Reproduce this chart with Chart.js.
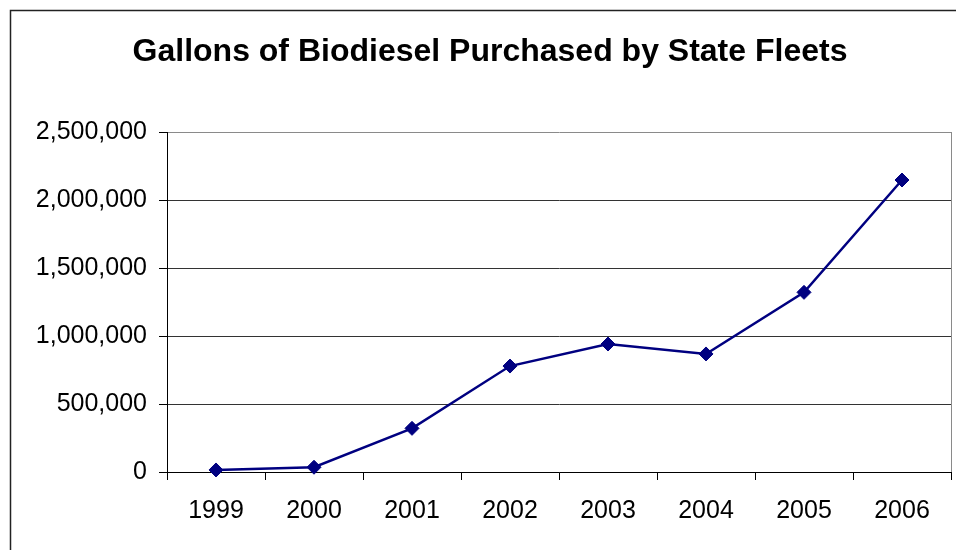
<!DOCTYPE html>
<html>
<head>
<meta charset="utf-8">
<script src="https://cdn.jsdelivr.net/npm/chart.js@4/dist/chart.umd.min.js"></script>
<style>
  html, body { margin: 0; padding: 0; background: #fff; }
  #wrap { width: 956px; height: 550px; }
</style>
</head>
<body>
<div id="wrap"><canvas id="biodieselChart" width="956" height="550"></canvas></div>
<script>
// data
const years = ['1999', '2000', '2001', '2002', '2003', '2004', '2005', '2006'];
const gallons = [15000, 35000, 321000, 779000, 941000, 868000, 1321000, 2147000];
const yTicks = [0, 500000, 1000000, 1500000, 2000000, 2500000];

// outer frame + grey right edge of the plot area
const framePlugin = {
  id: 'frame',
  beforeDraw(chart) {
    const ctx = chart.ctx;
    ctx.save();
    ctx.strokeStyle = '#222';
    ctx.lineWidth = 1.5;
    ctx.beginPath();
    ctx.moveTo(10.5, 550);
    ctx.lineTo(10.5, 10.5);
    ctx.lineTo(956, 10.5);
    ctx.stroke();
    ctx.restore();
  },
  afterDatasetsDraw(chart) {
    const { ctx, chartArea } = chart;
    ctx.save();
    ctx.strokeStyle = '#8a8a8a';
    ctx.lineWidth = 1;
    ctx.beginPath();
    ctx.moveTo(chartArea.right + 0.5, chartArea.top);
    ctx.lineTo(chartArea.right + 0.5, chartArea.bottom);
    ctx.stroke();
    ctx.restore();
  }
};

function displayBiodieselChart(canvas) {
  let ctx = canvas.getContext('2d');
  return new Chart(ctx, {
    type: 'line',
    data: {
      labels: years,
      datasets: [{
        label: 'Gallons',
        data: gallons,
        borderColor: '#000080',
        backgroundColor: '#000080',
        borderWidth: 2.5,
        pointStyle: 'rectRot',
        pointRadius: 7,
        pointBorderWidth: 1,
        pointBackgroundColor: '#000080',
        pointBorderColor: '#000080',
        tension: 0,
        clip: false
      }]
    },
    options: {
      responsive: false,
      animation: false,
      layout: { autoPadding: false, padding: { left: 29, right: 5, top: 0, bottom: 0 } },
      plugins: {
        legend: { display: false },
        tooltip: { enabled: false },
        title: {
          display: true,
          text: 'Gallons of Biodiesel Purchased by State Fleets',
          color: '#000',
          font: { family: 'Liberation Sans, Arial, sans-serif', size: 32, weight: 'bold' },
          padding: { top: 33, bottom: 60.6 }
        }
      },
      scales: {
        x: {
          type: 'category',
          offset: true,
          afterFit(scale) {
            scale.height = 78;
            scale.paddingLeft = 0;
            scale.paddingRight = 0;
          },
          grid: {
            offset: true,
            drawOnChartArea: false,
            drawTicks: true,
            tickLength: 8,
            color: '#000'
          },
          border: { color: '#000', width: 1 },
          ticks: {
            color: '#000',
            padding: 16,
            font: { family: 'Liberation Sans, Arial, sans-serif', size: 25 }
          }
        },
        y: {
          min: 0,
          max: 2500000,
          afterFit(scale) { scale.width = 138; },
          afterBuildTicks(scale) { scale.ticks = yTicks.map(v => ({ value: v })); },
          grid: {
            color: (c) => c.tick && c.tick.value === 2500000 ? '#8a8a8a' : '#333',
            tickColor: '#000',
            tickLength: 8,
            lineWidth: 1
          },
          border: { color: '#000', width: 1 },
          ticks: {
            color: '#000',
            padding: 12,
            font: { family: 'Liberation Sans, Arial, sans-serif', size: 25 },
            callback: (v) => Number(v).toLocaleString('en-US')
          }
        }
      }
    },
    plugins: [framePlugin]
  });
}

displayBiodieselChart(document.getElementById('biodieselChart'));
</script>
</body>
</html>
